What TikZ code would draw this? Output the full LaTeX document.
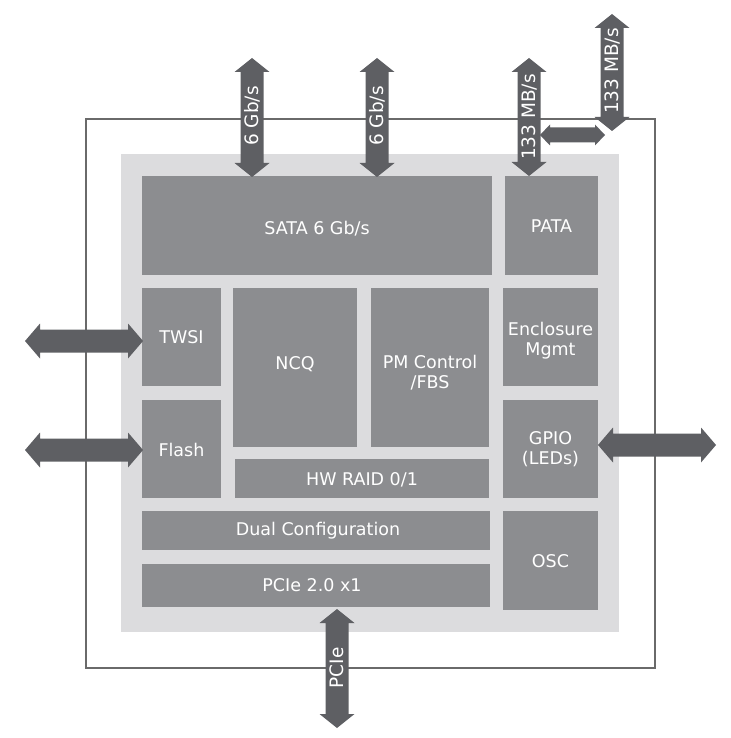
\documentclass[tikz,border=0pt]{standalone}
\usepackage{fontspec}
\setmainfont{DejaVu Sans}
\definecolor{blockgray}{HTML}{8C8D90}
\definecolor{panelgray}{HTML}{DCDCDE}
\definecolor{arrowgray}{HTML}{5E5F63}
\definecolor{linegray}{HTML}{6A6A6A}
\tikzset{
  blk/.style={fill=blockgray, draw=none},
  lbl/.style={text=white, font=\fontsize{17.5}{20}\selectfont, align=center, inner sep=0pt},
  arr/.style={fill=arrowgray, draw=none},
  albl/.style={text=white, font=\fontsize{18.5}{21}\selectfont, inner sep=0pt},
}
% vertical double arrow: cx, ytop, ybottom
\newcommand{\myvarrow}[3]{%
  \fill[arr] (#1,#2) -- (#1+17.5,#2+14) -- (#1+11.5,#2+14) -- (#1+11.5,#3-14) -- (#1+17.5,#3-14) -- (#1,#3)
    -- (#1-17.5,#3-14) -- (#1-11.5,#3-14) -- (#1-11.5,#2+14) -- (#1-17.5,#2+14) -- cycle;}
% horizontal double arrow: cy, xleft, xright, head half, body half, head len
\newcommand{\myharrow}[6]{%
  \fill[arr] (#2,#1) -- (#2+#6,#1-#4) -- (#2+#6,#1-#5) -- (#3-#6,#1-#5) -- (#3-#6,#1-#4) -- (#3,#1)
    -- (#3-#6,#1+#4) -- (#3-#6,#1+#5) -- (#2+#6,#1+#5) -- (#2+#6,#1+#4) -- cycle;}
\begin{document}
\begin{tikzpicture}[x=1pt,y=-1pt]
\useasboundingbox (0,0) rectangle (730,738);
% outer chip outline
\draw[linegray, line width=1.2pt] (86,119) rectangle (655,668);
% panel
\fill[panelgray] (121,154) rectangle (619,632);
% blocks
\fill[blk] (142,176) rectangle (492,275);
\node[lbl] (sata) at (317,229) {SATA 6 Gb/s};
\fill[blk] (505,176) rectangle (598,275);
\node[lbl] (pata) at (551.5,226) {PATA};
\fill[blk] (142,288) rectangle (221,386);
\node[lbl] (twsi) at (181.5,337) {TWSI};
\fill[blk] (142,400) rectangle (221,498);
\node[lbl] (flash) at (181.5,450) {Flash};
\fill[blk] (233,288) rectangle (357,447);
\node[lbl] (ncq) at (295,364) {NCQ};
\fill[blk] (371,288) rectangle (489,447);
\node[lbl] (pm) at (430,373) {PM Control\\[0pt]/FBS};
\fill[blk] (235,459) rectangle (489,498);
\node[lbl] (raid) at (362,480) {HW RAID 0/1};
\fill[blk] (503,288) rectangle (598,386);
\node[lbl] (encl) at (550.5,341) {Enclosure\\[0pt]Mgmt};
\fill[blk] (503,400) rectangle (598,498);
\node[lbl] (gpio) at (550.5,449) {GPIO\\[0pt](LEDs)};
\fill[blk] (142,511) rectangle (490,550);
\node[lbl] (dual) at (318,531) {Dual Configuration};
\fill[blk] (142,564) rectangle (490,607);
\node[lbl] (pcie) at (312,585) {PCIe 2.0 x1};
\fill[blk] (503,511) rectangle (598,610);
\node[lbl] (osc) at (550.5,561) {OSC};
% arrows
\myvarrow{252}{58}{177}
\node[albl, rotate=90] (a1) at (252,116) {6 Gb/s};
\myvarrow{377}{58}{177}
\node[albl, rotate=90] (a2) at (377,116) {6 Gb/s};
\myvarrow{529}{58}{176}
\node[albl, rotate=90] (a3) at (529,117) {133 MB/s};
\myvarrow{612}{14}{131}
\node[albl, rotate=90] (a4) at (612,71) {133 MB/s};
\myharrow{135}{540}{605}{10.5}{7.5}{10}
\myharrow{341}{25}{143}{17.5}{11.5}{15}
\myharrow{450}{25}{143}{17.5}{11.5}{15}
\myharrow{445}{598}{716}{17.5}{11.5}{15}
\myvarrow{337}{609}{728}
\node[albl, rotate=90] (a5) at (337,668) {PCIe};
\end{tikzpicture}
\end{document}
